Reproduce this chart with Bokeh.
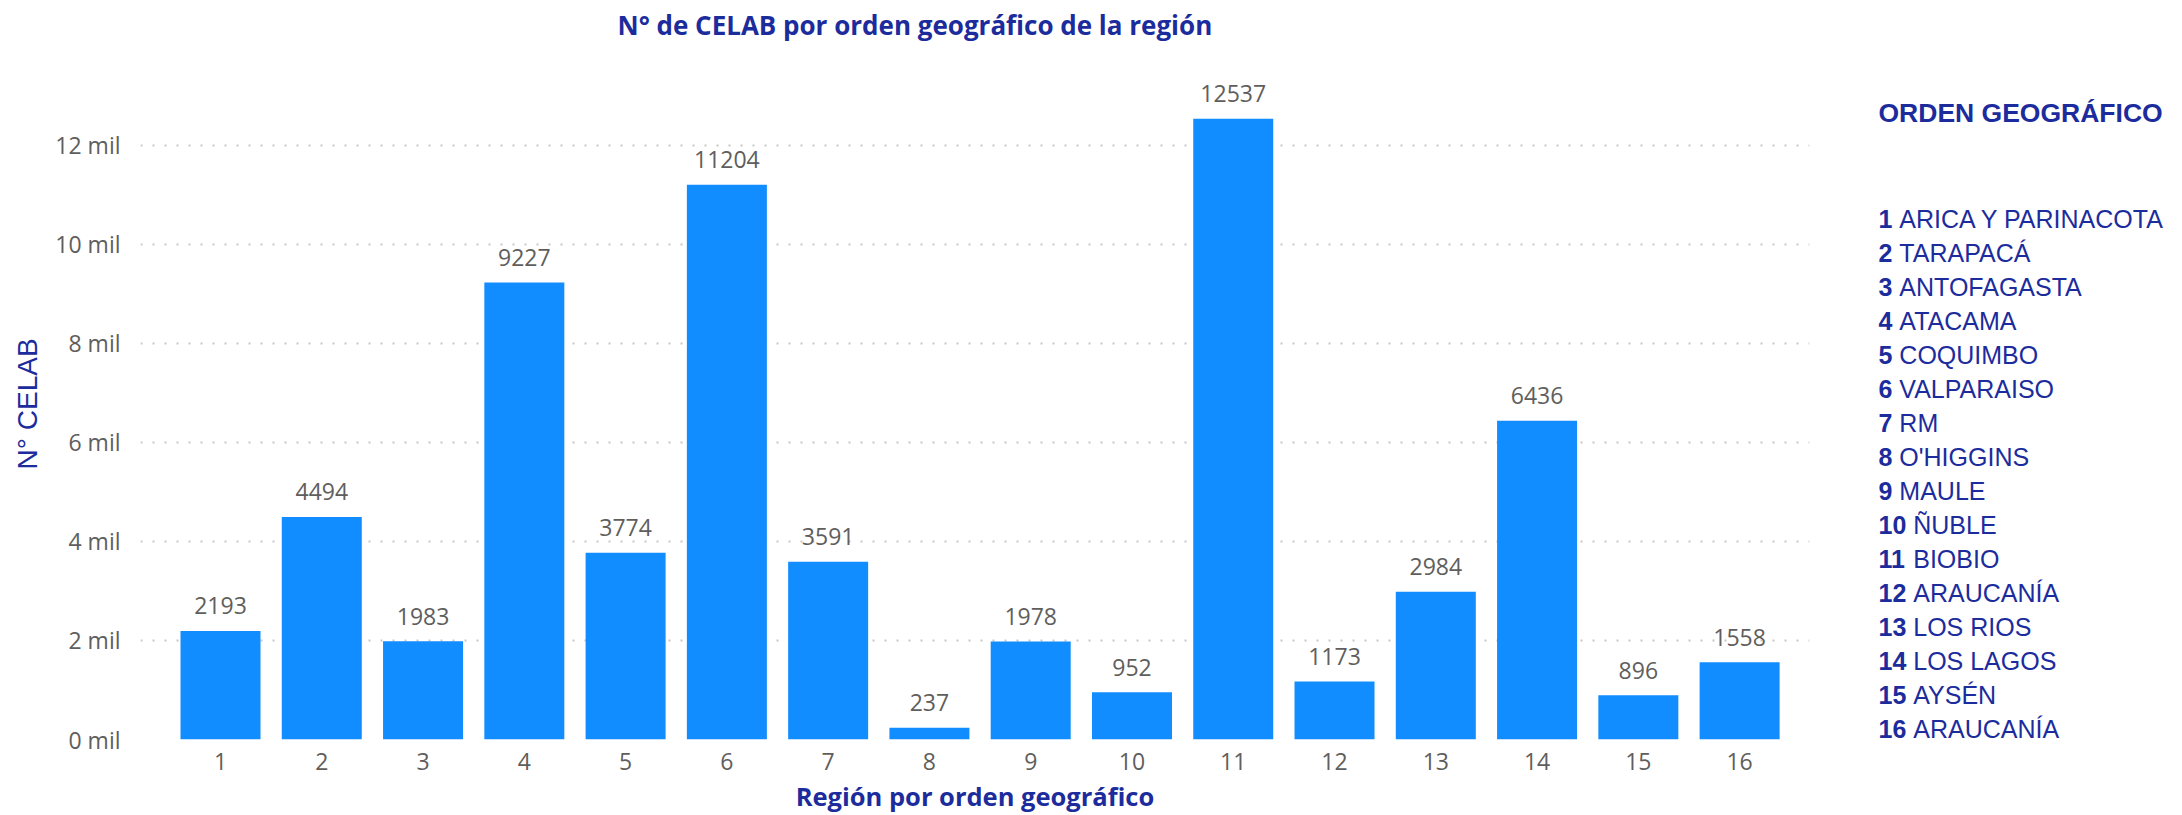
import math
from bokeh.plotting import figure
from bokeh.models import Range1d, FixedTicker, ColumnDataSource
from bokeh.layouts import row
from bokeh.core.properties import value
from bokeh.embed import file_html
from bokeh.resources import INLINE

# ---- data ----
regions = [str(i) for i in range(1, 17)]
celab = [2193, 4494, 1983, 9227, 3774, 11204, 3591, 237, 1978, 952, 12537, 1173, 2984, 6436, 896, 1558]
y_ticks = [0, 2000, 4000, 6000, 8000, 10000, 12000]
y_tick_labels = ["0 mil", "2 mil", "4 mil", "6 mil", "8 mil", "10 mil", "12 mil"]
legend_numbers = [str(i) for i in range(1, 17)]
legend_names = ["ARICA Y PARINACOTA", "TARAPACÁ", "ANTOFAGASTA", "ATACAMA", "COQUIMBO",
                "VALPARAISO", "RM", "O'HIGGINS", "MAULE", "ÑUBLE", "BIOBIO", "ARAUCANÍA",
                "LOS RIOS", "LOS LAGOS", "AYSÉN", "ARAUCANÍA"]
title_text = "N° de CELAB por orden geográfico de la región"
x_title = "Región por orden geográfico"
y_title = "N° CELAB"
legend_title = "ORDEN GEOGRÁFICO"

BLUE_TXT = "#1c2c9c"
BAR = "#118DFF"
GRAY = "#605E5C"

# ---- layout (pixels) ----
H = 815
FRAME_BOTTOM = 740          # frame spans 0..740 vertically
BOTTOM = H - FRAME_BOTTOM
YL_W = 50                   # y-title strip
MAIN_W = 1840 - YL_W
FRAME_L, FRAME_R = 140, 1809  # page x of the main frame
LEG_W = 2182 - 1840

X0, X1 = 0.21, 16.69
PX_PER_UNIT = 595 / 12000.0
Y1 = FRAME_BOTTOM / PX_PER_UNIT

xs = list(range(1, 17))
src = ColumnDataSource(dict(x=xs, y=celab, lab=[str(v) for v in celab]))

p = figure(width=MAIN_W, height=H, output_backend="svg", toolbar_location=None,
           x_range=Range1d(X0, X1), y_range=Range1d(0, Y1),
           min_border_left=FRAME_L - YL_W, min_border_right=1840 - FRAME_R,
           min_border_top=0, min_border_bottom=BOTTOM)
p.outline_line_color = None
p.title.visible = False

p.vbar(x="x", top="y", width=0.79, source=src, color=BAR, line_color=None)
p.text(x="x", y="y", text="lab", source=src, text_align="center", text_baseline="alphabetic",
       y_offset=-25, text_font=value("Open Sans"), text_font_size="23px", text_color=GRAY)

# chart title drawn inside the (tall) frame, near its top
title_x = X0 + (617 - FRAME_L) * (X1 - X0) / (FRAME_R - FRAME_L)
p.text(x=[title_x], y=[Y1], text=[title_text], y_offset=24, text_align="left",
       text_baseline="middle", text_font=value("Open Sans"), text_font_size="26px",
       text_font_style="bold", text_color=BLUE_TXT)

# axes
xa = p.xaxis[0]
xa.ticker = FixedTicker(ticks=xs)
xa.major_label_overrides = {x: r for x, r in zip(xs, regions)}
xa.axis_line_color = None
xa.major_tick_line_color = None
xa.minor_tick_line_color = None
xa.major_tick_out = 0
xa.minor_tick_out = 0
xa.major_label_standoff = 13
xa.major_label_text_font = "Open Sans"
xa.major_label_text_font_size = "23px"
xa.major_label_text_color = GRAY
xa.axis_label = x_title
xa.axis_label_standoff = 6
xa.axis_label_text_font = "Open Sans"
xa.axis_label_text_font_size = "25.5px"
xa.axis_label_text_font_style = "bold"
xa.axis_label_text_color = BLUE_TXT

ya = p.yaxis[0]
ya.ticker = FixedTicker(ticks=y_ticks)
ya.major_label_overrides = {t: l for t, l in zip(y_ticks, y_tick_labels)}
ya.axis_line_color = None
ya.major_tick_line_color = None
ya.minor_tick_line_color = None
ya.major_tick_out = 0
ya.minor_tick_out = 0
ya.major_label_standoff = 20
ya.major_label_text_font = "Open Sans"
ya.major_label_text_font_size = "23px"
ya.major_label_text_color = GRAY

p.xgrid.grid_line_color = None
p.ygrid.grid_line_color = "#c8c6c4"
p.ygrid.grid_line_width = 2
p.ygrid.grid_line_dash = "2 10"


def strip(width):
    f = figure(width=width, height=H, output_backend="svg", toolbar_location=None,
               x_range=Range1d(0, width), y_range=Range1d(FRAME_BOTTOM, 0),
               x_axis_type=None, y_axis_type=None,
               min_border_left=0, min_border_right=0, min_border_top=0, min_border_bottom=BOTTOM)
    f.outline_line_color = None
    f.xgrid.grid_line_color = None
    f.ygrid.grid_line_color = None
    f.title.visible = False
    return f


# ---- y title strip ----
yl = strip(YL_W)
yl.text(x=[27], y=[404], text=[y_title], angle=math.pi / 2, text_align="center",
        text_baseline="middle", text_font=value("Liberation Sans"), text_font_size="28px",
        text_color=BLUE_TXT)

# ---- legend strip ----
lg = strip(LEG_W)
lx0 = 1878 - 1840
FS = 25
lg.text(x=[lx0], y=[113], text=[legend_title], text_font=value("Liberation Sans"),
        text_font_size="26.5px", text_font_style="bold", text_color=BLUE_TXT,
        text_baseline="middle", text_align="left")

step = 34
ys = [219 + i * step for i in range(len(legend_numbers))]
num_w = 0.556 * FS
name_x = [lx0 + len(n) * num_w + 0.278 * FS for n in legend_numbers]
lg.text(x=[lx0] * len(legend_numbers), y=ys, text=legend_numbers, text_font=value("Liberation Sans"),
        text_font_size=f"{FS}px", text_font_style="bold", text_color=BLUE_TXT,
        text_baseline="middle", text_align="left")
lg.text(x=name_x, y=ys, text=legend_names, text_font=value("Liberation Sans"),
        text_font_size=f"{FS}px", text_font_style="normal", text_color=BLUE_TXT,
        text_baseline="middle", text_align="left")

layout = row(yl, p, lg, spacing=0)
open("out.html", "w").write(file_html(layout, INLINE))
